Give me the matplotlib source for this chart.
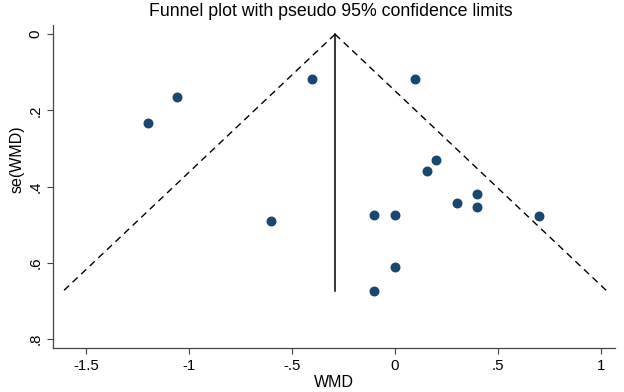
import matplotlib
matplotlib.use("Agg")
import matplotlib.pyplot as plt
import numpy as np

plt.rcParams['font.family'] = ['Liberation Sans', 'DejaVu Sans']

# effect sizes (WMD) and their standard errors
wmd = [-1.20, -1.06, -0.40, 0.10, 0.20, 0.157, 0.40, 0.30, 0.40, -0.10, 0.0, 0.70, 0.0, -0.10, -0.60]
se = [0.232, 0.164, 0.118, 0.118, 0.330, 0.359, 0.419, 0.444, 0.452, 0.475, 0.475, 0.478, 0.610, 0.673, 0.490]
pooled = -0.29

x_ticks = [-1.5, -1, -0.5, 0, 0.5, 1]
x_labels = ['-1.5', '-1', '-.5', '0', '.5', '1']
y_ticks = [0, 0.2, 0.4, 0.6, 0.8]
y_labels = ['0', '.2', '.4', '.6', '.8']

fig = plt.figure(figsize=(6.24, 3.92), dpi=100)
ax = fig.add_axes([0.0854, 0.1115, 0.9002, 0.8245])

# pseudo 95% limits
se_max = max(se)
s = np.array([0, se_max])
ax.plot(pooled - 1.96 * s, s, color='black', lw=1.0, dashes=(5, 3.5))
ax.plot(pooled + 1.96 * s, s, color='black', lw=1.0, dashes=(5, 3.5))
ax.plot([pooled, pooled], [0, se_max], color='black', lw=1.1)

ax.scatter(wmd, se, s=38, color='#1a476f', edgecolors='#1a476f', zorder=3)

ax.set_xlim(-1.659, 1.07)
ax.set_ylim(0.824, -0.024)
ax.set_xticks(x_ticks)
ax.set_xticklabels(x_labels)
ax.set_yticks(y_ticks)
ax.set_yticklabels(y_labels, rotation=90, va='center')
ax.tick_params(direction='out', length=4, width=0.8, labelsize=10.8, color='#444444', pad=4)

for side in ['top', 'right']:
    ax.spines[side].set_visible(False)
for side in ['left', 'bottom']:
    ax.spines[side].set_color('#444444')
    ax.spines[side].set_linewidth(0.9)

ax.set_xlabel('WMD', fontsize=11.5, labelpad=1)
fig.text(0.027, 0.594, 'se(WMD)', rotation=90, ha='center', va='center', fontsize=11.5)
fig.text(0.53, 0.97, 'Funnel plot with pseudo 95% confidence limits', ha='center', va='center', fontsize=12.8)

fig.savefig('out.png', dpi=100)
